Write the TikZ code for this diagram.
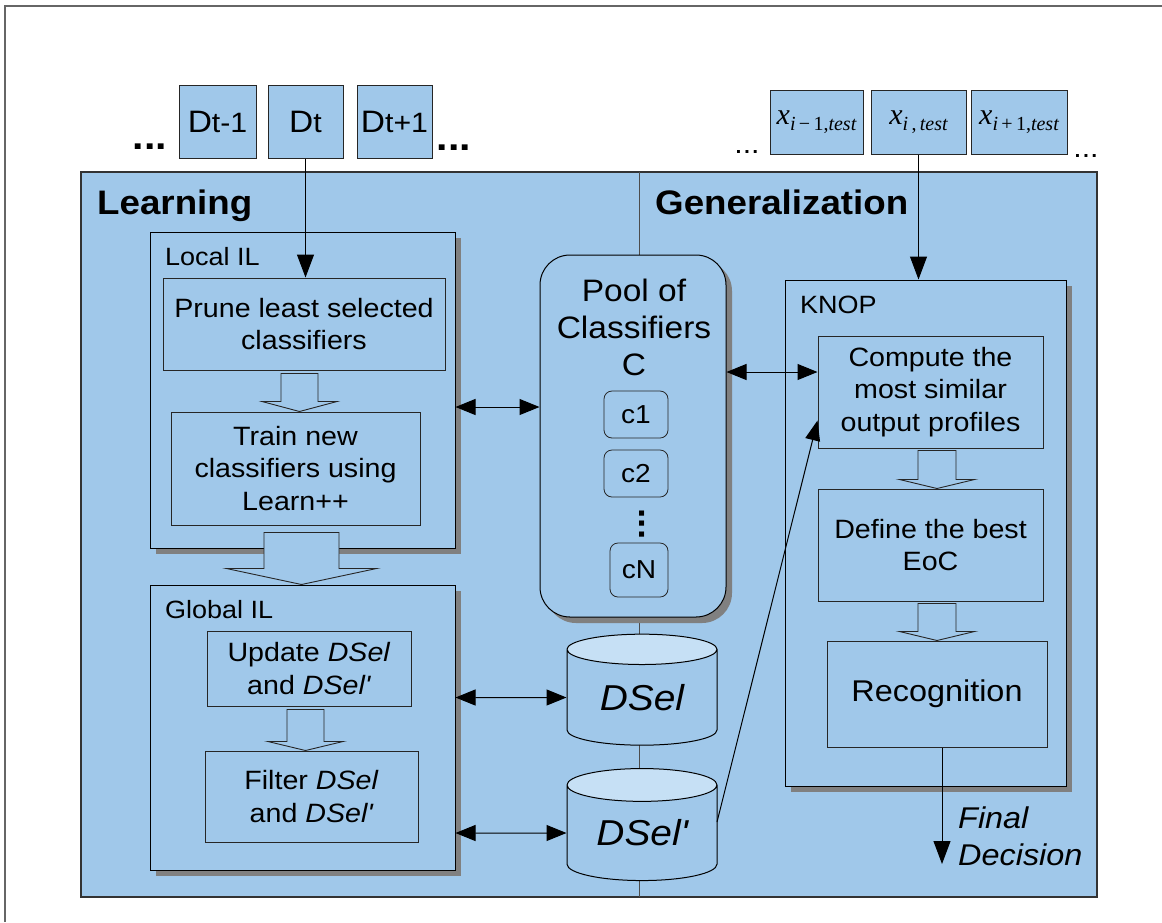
\documentclass[tikz,border=0pt]{standalone}
\usepackage{fontspec}
\setmainfont[FakeStretch=1.08]{Liberation Sans}
\newfontfamily\timesfont{Liberation Serif}
\usetikzlibrary{shapes.geometric, arrows.meta, positioning, calc, shadows}
\definecolor{panelblue}{RGB}{160,200,234}
\definecolor{cyltop}{RGB}{198,224,245}
\definecolor{shadowgray}{RGB}{128,128,128}

\newcommand{\fs}[2]{\fontsize{#1}{#2}\selectfont}
\newcommand{\xtest}[1]{{\timesfont\fs{30}{30}\itshape x}\raisebox{-6pt}{\timesfont\fs{20}{20}#1}}
% hollow block arrow: start, tip, shaft half width, head half width, head length
\newcommand{\hollowarrow}[5]{%
  \draw[hollowarr] ($(#1)+(-#3,0)$) -- ($(#1|-#2)+(-#3,-#5)$) -- ($(#1|-#2)+(-#4,-#5)$)
    -- (#1|-#2) -- ($(#1|-#2)+(#4,-#5)$) -- ($(#1|-#2)+(#3,-#5)$) -- ($(#1)+(#3,0)$) -- cycle;}

\tikzset{
  inbox/.style={draw=black!85, fill=panelblue, line width=1pt, inner sep=0pt, align=center, font=\fs{31}{31}},
  procbox/.style={draw=black!85, fill=panelblue, line width=1pt, inner sep=0pt, align=center, font=\fs{26.5}{32.5}},
  groupbox/.style={draw=black, fill=panelblue, line width=1pt, inner sep=0pt,
    drop shadow={shadow xshift=6pt, shadow yshift=-6pt, fill=shadowgray, opacity=1}},
  clf/.style={draw=black!85, fill=panelblue, line width=0.8pt, rounded corners=8pt, inner sep=0pt, font=\fs{26}{26}},
  store/.style={cylinder, shape border rotate=90, aspect=0.36, draw=black, line width=1pt,
    cylinder uses custom fill, cylinder body fill=panelblue, cylinder end fill=cyltop,
    inner sep=0pt, font=\itshape\fs{36}{36}},
  tagfont/.style={inner sep=0pt, font=\fs{25}{25}},
  arr/.style={line width=1pt, -{Triangle[length=23pt,width=17pt]}},
  dblarr/.style={line width=1pt, {Triangle[length=20pt,width=16pt]}-{Triangle[length=20pt,width=16pt]}},
  hollowarr/.style={draw=black!85, fill=panelblue, line width=0.9pt, line join=miter}
}

\begin{document}
\begin{tikzpicture}[x=1pt, y=-1pt]
  \useasboundingbox (0,0) rectangle (1162,922);
  \draw[black!60, line width=1.2pt] (5,922) -- (5,6) -- (1162,6);

  % panel and divider
  \node[draw=black!80, fill=panelblue, line width=1.5pt, minimum width=1016pt, minimum height=725pt] (panel) at (589,534.5) {};
  \draw[black!70, line width=1pt] (639,172) -- (639,897);

  % input stream
  \node[inbox, minimum width=77pt, minimum height=73pt] (dprev) at (217.5,121.5) {D{\fs{28}{28}t-1}};
  \node[inbox, minimum width=75pt, minimum height=73pt] (dcur) at (305.5,121.5) {D{\fs{28}{28}t}};
  \node[inbox, minimum width=75pt, minimum height=73pt] (dnext) at (394.5,121.5) {D{\fs{28}{28}t+1}};
  \node[anchor=base, font=\bfseries\fs{38}{38}] (dotsa) at (150,149) {...};
  \node[anchor=base, font=\bfseries\fs{38}{38}] (dotsb) at (454,150) {...};

  \node[inbox, minimum width=93pt, minimum height=64pt] (xprev) at (816.5,122) {\xtest{{\itshape i}\,−\,1,{\itshape test}}};
  \node[inbox, minimum width=95pt, minimum height=64pt] (xcur) at (918.5,122) {\xtest{{\itshape i}\,,\,{\itshape test}}};
  \node[inbox, minimum width=96pt, minimum height=64pt] (xnext) at (1019,122) {\xtest{{\itshape i}\,+\,1,{\itshape test}}};
  \node[anchor=base, font=\fs{28}{28}] (dotsc) at (747,153) {...};
  \node[anchor=base, font=\fs{28}{28}] (dotsd) at (1086,157) {...};

  \node[anchor=base west, inner sep=0pt, font=\bfseries\fs{34}{34}] (learning) at (97,214) {Learning};
  \node[anchor=base west, inner sep=0pt, font=\bfseries\fs{34}{34}] (general) at (655,214) {Generalization};

  % learning side
  \node[groupbox, minimum width=305pt, minimum height=316pt] (localIL) at (302.5,390) {};
  \node[anchor=base west, tagfont] (localtag) at (165,265) {Local IL};
  \node[procbox, minimum width=282pt, minimum height=92pt] (prune) at (304,324) {Prune least selected\\classifiers};
  \node[procbox, minimum width=249pt, minimum height=113pt] (train) at (295.5,468.5) {Train new\\classifiers using\\Learn++};

  \node[groupbox, minimum width=305pt, minimum height=285pt] (globalIL) at (302.5,727.5) {};
  \node[anchor=base west, tagfont] (globaltag) at (165,618) {Global IL};
  \node[procbox, minimum width=204pt, minimum height=75pt] (update) at (309,668.5) {Update \textit{DSel}\\and \textit{DSel\textquotesingle}};
  \node[procbox, minimum width=213pt, minimum height=91pt] (filter) at (311.5,796.5) {Filter \textit{DSel}\\and \textit{DSel\textquotesingle}};

  % pool and validation sets
  \node[groupbox, rounded corners=30pt, minimum width=186pt, minimum height=362pt] (pool) at (633,436) {};
  \node[anchor=north, align=center, inner sep=0pt, font=\fs{31}{37}] (pooltitle) at (634,279) {Pool of\\Classifiers\\C};
  \node[clf, minimum width=64pt, minimum height=47pt] (c1) at (636,414.5) {c1};
  \node[clf, minimum width=64pt, minimum height=47pt] (c2) at (636,473.5) {c2};
  \node[rotate=-90, inner sep=0pt, font=\bfseries\fs{34}{34}] (cdots) at (642,524) {...};
  \node[clf, minimum width=58pt, minimum height=54pt] (cN) at (639,570) {cN};

  \node[store, minimum width=150pt, minimum height=111pt] (dsel) at (642,697.5) {DSel};
  \node[store, minimum width=150pt, minimum height=112pt] (dselp) at (642,833) {DSel\textquotesingle};

  % generalization side
  \node[groupbox, minimum width=281pt, minimum height=506pt] (knop) at (925.5,533) {};
  \node[anchor=base west, tagfont] (knoptag) at (800,313) {KNOP};
  \node[procbox, minimum width=225pt, minimum height=112pt] (compute) at (930.5,392) {Compute the\\most similar\\output profiles};
  \node[procbox, minimum width=225pt, minimum height=112pt] (define) at (930.5,545) {Define the best\\EoC};
  \node[procbox, minimum width=220pt, minimum height=106pt, font=\fs{30}{30}] (recog) at (937,694) {Recognition};

  % connectors
  \draw[arr] (dcur.south) -- (dcur.south |- prune.north);
  \draw[arr] (xcur.south) -- (xcur.south |- knop.north);
  \coordinate (lp) at ($(localIL.east)+(0,17)$);
  \draw[dblarr] (lp) -- (lp -| pool.west);
  \coordinate (pc) at ($(compute.west)+(0,-20)$);
  \draw[dblarr] (pc -| pool.east) -- (pc);
  \draw[dblarr] (globalIL.east |- dsel.center) -- (dsel);
  \draw[dblarr] (globalIL.east |- dselp.center) -- (dselp);
  \coordinate (dselpR) at ($(dselp.center)+(75,-11)$);
  \coordinate (cin) at ($(compute.south west)+(0,-28)$);
  \draw[line width=1pt, -{Triangle[length=20pt,width=15pt]}] (dselpR) -- (cin);
  \coordinate (decision) at (942,864);
  \draw[arr] (recog.south -| decision) -- (decision);
  \node[anchor=north west, align=left, inner sep=0pt, font=\itshape\fs{30}{37}] (finaltxt) at (958,807) {Final\\Decision};

  % hollow block arrows
  \coordinate (h1) at ($(prune.south)+(-4.5,3)$);
  \hollowarrow{h1}{train.north}{18.5}{37.5}{10}
  \coordinate (h2) at ($(localIL.south)+(-1,-16)$);
  \hollowarrow{h2}{globalIL.north}{37.5}{75}{16}
  \coordinate (h3) at ($(update.south)+(-3.5,3)$);
  \hollowarrow{h3}{filter.north}{18.5}{37.5}{9}
  \coordinate (h4) at ($(compute.south)+(6.5,2)$);
  \hollowarrow{h4}{define.north}{19}{37.5}{9}
  \coordinate (h5) at ($(define.south)+(6.5,2)$);
  \hollowarrow{h5}{recog.north}{19}{37.5}{9}
\end{tikzpicture}
\end{document}
